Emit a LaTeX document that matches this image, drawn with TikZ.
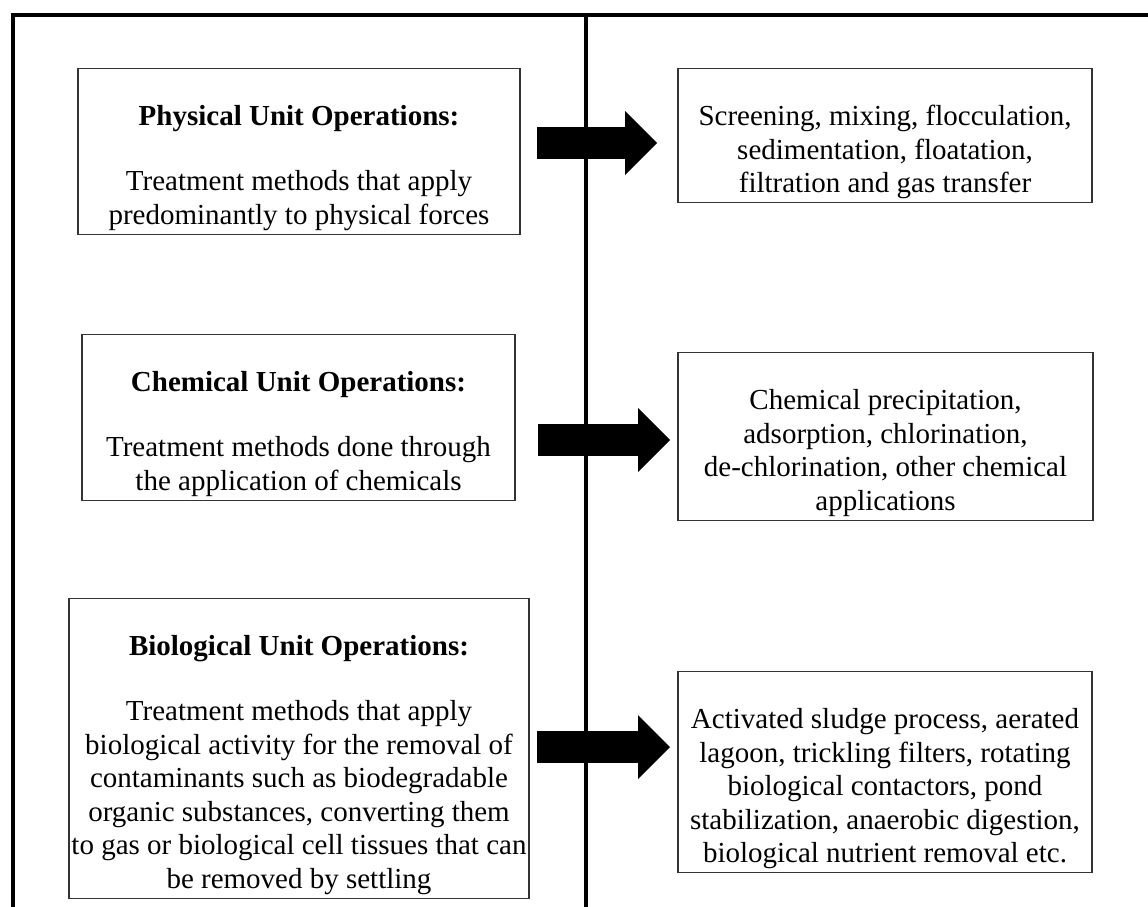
\documentclass[tikz,border=0pt]{standalone}
\usepackage{fontspec}
\setmainfont{Liberation Serif}
\usepackage{tikz}
\usetikzlibrary{arrows.meta}
\newcommand{\topgap}{\rule{0pt}{57pt}}
\tikzset{
unit op/.style = { rectangle, draw = black!80, line width = 1.2pt, fill = white, align = center, inner sep = 0pt, anchor = north, font = \fontsize{29}{33.5}\selectfont },
method list/.style = { unit op },
fat arrow/.style = { line width = 32pt, -{Triangle[length = 32pt, width = 64pt, line width = 0pt]} },
border line/.style = { line width = 3.5pt, black },
}
\begin{document}
\begin{tikzpicture}[x = 1pt, y = -1pt]
    \useasboundingbox (0, 0) rectangle (1148, 907);
    % frame and middle divider
    \draw[border line] (13, 907) -- (13, 15) -- (1148, 15);
    \draw[border line] (586, 15) -- (586, 907);
    % left column
    \node[unit op, minimum width = 442pt] (physop) at (299, 68) {\topgap\textbf{Physical Unit Operations:}\\[31.5pt] Treatment methods that apply\\ predominantly to physical forces\strut};
    \node[unit op, minimum width = 433pt] (chemop) at (298.5, 334) {\topgap\textbf{Chemical Unit Operations:}\\[31.5pt] Treatment methods done through\\ the application of chemicals\strut};
    \node[unit op, minimum width = 460pt] (bioop) at (299, 598) {\topgap\textbf{Biological Unit Operations:}\\[31.5pt] Treatment methods that apply\\ biological activity for the removal of\\ contaminants such as biodegradable\\ organic substances, converting them\\ to gas or biological cell tissues that can\\ be removed by settling\strut};
    % right column
    \node[method list, minimum width = 414pt] (physex) at (885, 68) {\topgap Screening, mixing, flocculation,\\ sedimentation, floatation,\\ filtration and gas transfer\strut};
    \node[method list, minimum width = 415pt] (chemex) at (885.5, 352) {\topgap Chemical precipitation,\\ adsorption, chlorination,\\ de-chlorination, other chemical\\ applications\strut};
    \node[method list, minimum width = 414pt] (bioex) at (885, 671) {\topgap Activated sludge process, aerated\\ lagoon, trickling filters, rotating\\ biological contactors, pond\\ stabilization, anaerobic digestion,\\ biological nutrient removal etc.\strut};
    % block arrows
    \coordinate (physout) at (537, 143);
    \coordinate (physin) at (657, 143);
    \coordinate (chemout) at (538, 440);
    \coordinate (chemin) at (670, 440);
    \coordinate (bioout) at (537, 747);
    \coordinate (bioin) at (670, 747);
    \draw[fat arrow] (physout) -- (physin);
    \draw[fat arrow] (chemout) -- (chemin);
    \draw[fat arrow] (bioout) -- (bioin);
\end{tikzpicture}
\end{document}
